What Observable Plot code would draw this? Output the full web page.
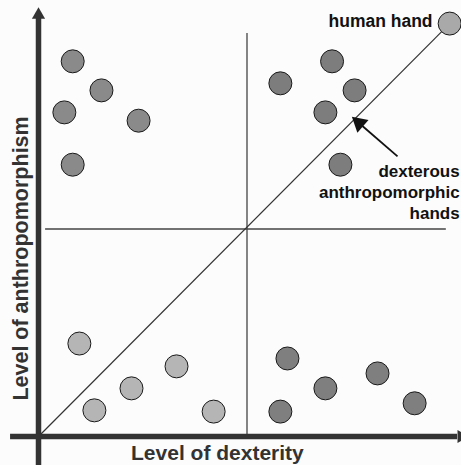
<!DOCTYPE html>
<html>
<head>
<meta charset="utf-8">
<script src="https://cdn.jsdelivr.net/npm/d3@7"></script>
<script src="https://cdn.jsdelivr.net/npm/@observablehq/plot@0.6"></script>
<style>
  html, body { margin: 0; padding: 0; background: #fcfcfc; }
  svg { display: block; }
</style>
</head>
<body>
<div id="chart"></div>
<script>
// ---- data (dexterity 0..10, anthropomorphism 0..10) ----
const groupNames = ["anthropomorphic, low dexterity", "dexterous anthropomorphic", "simple grippers", "dexterous non-anthropomorphic"];
const groupFills = ["#8a8a8a", "#7d7d7d", "#b5b5b5", "#7f7f7f"];

const dexterityTL = [0.82, 1.51, 0.62, 2.40, 0.82];
const anthropoTL  = [9.04, 8.34, 7.81, 7.61, 6.55];

const dexterityTR = [7.04, 5.80, 7.58, 6.88, 7.24];
const anthropoTR  = [9.04, 8.51, 8.34, 7.81, 6.55];

const dexterityBL = [0.98, 1.34, 2.23, 3.31, 4.20];
const anthropoBL  = [2.24, 0.63, 1.16, 1.69, 0.60];

const dexterityBR = [5.97, 5.80, 6.88, 8.13, 9.02];
const anthropoBR  = [1.88, 0.60, 1.16, 1.52, 0.80];

const humanDexterity = [9.86];
const humanAnthropo = [9.95];
const humanFill = "#a9a9a9";

const midpoint = 5;
const axisLabels = ["Level of dexterity", "Level of anthropomorphism"];
const annotationLabels = ["human hand", "dexterous\nanthropomorphic\nhands"];

// ---- build table ----
const dexSets = [dexterityTL, dexterityTR, dexterityBL, dexterityBR];
const antSets = [anthropoTL, anthropoTR, anthropoBL, anthropoBR];
const points = [];
dexSets.forEach((xs, g) => xs.forEach((x, i) => points.push({group: groupNames[g], x, y: antSets[g][i], fill: groupFills[g]})));
points.push({group: "human hand", x: humanDexterity[0], y: humanAnthropo[0], fill: humanFill});

const font = "'Liberation Sans', Arial, Helvetica, sans-serif";

// annotation arrow (tail -> tip)
const arrowTail = {x: 8.61, y: 6.75};
const arrowTip = {x: 7.53, y: 7.69};
const headFrac = 0.15;
const headCenter = {x: arrowTip.x + (arrowTail.x - arrowTip.x) * headFrac, y: arrowTip.y + (arrowTail.y - arrowTip.y) * headFrac};
const linkEnd = {x: arrowTip.x + (arrowTail.x - arrowTip.x) * 0.22, y: arrowTip.y + (arrowTail.y - arrowTip.y) * 0.22};

const chart = Plot.plot({
  width: 461,
  height: 465,
  marginLeft: 38,
  marginRight: 6,
  marginTop: 21,
  marginBottom: 29,
  style: {background: "#fcfcfc", fontFamily: font, overflow: "visible"},
  x: {domain: [0, 10], axis: null},
  y: {domain: [0, 10], axis: null},
  color: {type: "identity"},
  marks: [
    // quadrant lines
    Plot.ruleX([midpoint], {y1: 0, y2: 9.71, stroke: "#444", strokeWidth: 1.3}),
    Plot.ruleY([midpoint], {x1: 0.17, x2: 9.78, stroke: "#444", strokeWidth: 1.3}),
    // diagonal to human hand
    Plot.link([0], {x1: 0, y1: 0, x2: humanDexterity[0], y2: humanAnthropo[0], stroke: "#333", strokeWidth: 1.2}),
    // thick axes
    Plot.ruleX([0], {y1: -0.75, y2: 10.1, stroke: "#333", strokeWidth: 5.5}),
    Plot.ruleY([0], {x1: -0.67, x2: 10.05, stroke: "#333", strokeWidth: 5.5}),
    Plot.dot([0], {x: 0, y: 10.16, symbol: "triangle", r: 4.9, fill: "#333", stroke: null}),
    Plot.dot([0], {x: 10.14, y: 0, symbol: "triangle", r: 4.9, fill: "#333", stroke: null, rotate: 90}),
    // circles
    Plot.dot(points, {x: "x", y: "y", r: 11.5, fill: "fill", stroke: "#1a1a1a", strokeWidth: 1}),
    // annotation arrow
    Plot.link([0], {x1: arrowTail.x, y1: arrowTail.y, x2: linkEnd.x, y2: linkEnd.y, stroke: "#111", strokeWidth: 1.8}),
    Plot.dot([0], {x: headCenter.x, y: headCenter.y, symbol: "triangle", r: 6.3, fill: "#111", stroke: null, rotate: -49}),
    // annotation texts
    Plot.text([annotationLabels[0]], {x: 9.45, y: 9.86, text: d => d, textAnchor: "end", lineAnchor: "bottom", fontSize: 17.5, fontWeight: "bold", fill: "#111", fontFamily: font}),
    Plot.text([annotationLabels[1]], {x: 10.1, y: 5.23, text: d => d, textAnchor: "end", lineAnchor: "bottom", lineHeight: 1.24, fontSize: 17, fontWeight: "bold", fill: "#111", fontFamily: font}),
    // axis labels
    Plot.text([axisLabels[0]], {x: 4.29, y: -0.57, text: d => d, textAnchor: "middle", lineAnchor: "bottom", fontSize: 21, fontWeight: "bold", fill: "#333", fontFamily: font}),
    Plot.text([axisLabels[1]], {x: -0.41, y: 4.29, text: d => d, rotate: -90, textAnchor: "middle", lineAnchor: "middle", fontSize: 21.5, fontWeight: "bold", fill: "#333", fontFamily: font})
  ]
});
document.getElementById("chart").appendChild(chart);
</script>
</body>
</html>
